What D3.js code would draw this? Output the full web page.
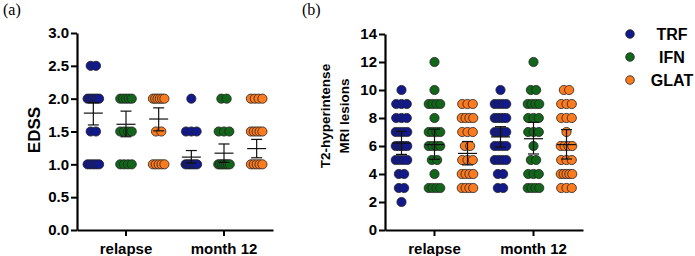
<!DOCTYPE html>
<html>
<head>
<meta charset="utf-8">
<script src="https://cdn.jsdelivr.net/npm/d3@7"></script>
<style>
  body { margin: 0; background: #fff; }
  text { font-family: "Liberation Sans", Arial, sans-serif; font-weight: bold; }
</style>
</head>
<body>
<svg id="chart"></svg>
<script>
const categories = ["relapse", "month 12"]
const seriesNames = ["TRF", "IFN", "GLAT"]
const seriesColors = ["#11198c", "#12661a", "#fb7b1e"]

const edssTicks = [0, 0.5, 1, 1.5, 2, 2.5, 3]
const lesionTicks = [0, 2, 4, 6, 8, 10, 12, 14]

// EDSS, one array per series, [relapse, month 12]
const edssTRF = [
    [2.5, 2.5, 2, 2, 2, 2, 2, 2, 1.5, 1.5, 1, 1, 1, 1, 1],
    [2, 1.5, 1.5, 1.5, 1, 1, 1, 1, 1, 1]
]
const edssIFN = [
    [2, 2, 2, 2, 2, 1.5, 1.5, 1.5, 1.5, 1, 1, 1, 1],
    [2, 2, 1.5, 1.5, 1.5, 1, 1, 1, 1, 1, 1, 1]
]
const edssGLAT = [
    [2, 2, 2, 2, 2, 2, 1.5, 1.5, 1, 1, 1, 1, 1],
    [2, 2, 2, 2, 1.5, 1.5, 1.5, 1.5, 1.5, 1, 1, 1, 1, 1]
]
// mean and error bar ends, [category][series]
const edssMean = [[1.78, 1.61, 1.69], [1.11, 1.17, 1.24]]
const edssLow = [[1.60, 1.42, 1.51], [1.02, 1.03, 1.10]]
const edssHigh = [[1.94, 1.81, 1.86], [1.21, 1.31, 1.38]]

// T2 lesions
const lesTRF = [
    [10, 9, 9, 9, 8, 8, 8, 7, 7, 7, 7, 6, 6, 6, 6, 6, 5, 5, 5, 5, 4, 4, 3, 3, 2],
    [10, 9, 9, 9, 9, 8, 8, 8, 8, 8, 7, 7, 7, 7, 6, 6, 6, 6, 5, 5, 5, 5, 4, 4, 3, 3]
]
const lesIFN = [
    [12, 10, 9, 9, 9, 9, 8, 7, 7, 7, 7, 6, 6, 6, 6, 5, 5, 4, 3, 3, 3, 3],
    [12, 10, 10, 9, 9, 9, 9, 8, 8, 8, 7, 7, 7, 6, 5, 5, 4, 4, 4, 3, 3, 3, 3]
]
const lesGLAT = [
    [9, 9, 9, 8, 8, 8, 8, 7, 7, 7, 6, 6, 5, 5, 5, 4, 4, 4, 4, 3, 3, 3, 3],
    [10, 10, 9, 9, 9, 8, 8, 8, 7, 6, 6, 6, 6, 5, 5, 5, 4, 4, 4, 4, 4, 3, 3, 3]
]
const lesMean = [[6.2, 6.1, 5.47], [6.65, 6.52, 6.1]]
const lesLow = [[5.4, 5.05, 4.65], [5.92, 5.43, 5.07]]
const lesHigh = [[7.05, 7.2, 6.32], [7.38, 7.69, 7.17]]

const width = 695
const height = 256

const svg = d3.select("#chart")
    .attr("width", width)
    .attr("height", height)

function DrawScatterPanel(opts) {
    const g = svg.append("g")

    const x = d3.scaleBand()
        .domain(categories)
        .range([opts.left, opts.right])
    const sub = d3.scaleBand()
        .domain(seriesNames)
        .range([0, x.bandwidth()])
    const y = d3.scaleLinear()
        .domain([0, opts.max])
        .range([opts.bottom, opts.top])

    const yAxis = d3.axisLeft(y)
        .tickValues(opts.ticks)
        .tickFormat(opts.format)
        .tickSize(6)
        .tickSizeOuter(0)
        .tickPadding(2)
    const xAxis = d3.axisBottom(x)
        .tickSize(6)
        .tickSizeOuter(0)
        .tickPadding(3)

    // dots, Prism-like spread of equal values
    opts.series.forEach((s, si) => {
        categories.forEach((c, ci) => {
            const cx = x(c) + sub(seriesNames[si]) + sub.bandwidth() / 2
            const rows = d3.groups(s[ci], d => d)
            const pts = []
            rows.forEach(([v, arr]) => {
                const n = arr.length
                const step = n > 1 ? Math.min(5.3, 11.5 / (n - 1)) : 0
                arr.forEach((d, i) => {
                    pts.push({ v: v, x: cx + i * step - (n - 1) * step / 2 })
                })
            })
            g.selectAll(null)
                .data(pts)
                .enter()
                .append("circle")
                .attr("cx", d => d.x)
                .attr("cy", d => y(d.v))
                .attr("r", 4.6)
                .attr("fill", seriesColors[si])
                .attr("stroke", "#222")
                .attr("stroke-width", 0.8)
        })
    })

    // mean and error bars
    categories.forEach((c, ci) => {
        seriesNames.forEach((s, si) => {
            const cx = x(c) + sub(s) + sub.bandwidth() / 2
            const eb = g.append("g")
                .attr("stroke", "#111")
                .attr("stroke-width", 1.2)
            eb.append("line")
                .attr("x1", cx).attr("x2", cx)
                .attr("y1", y(opts.low[ci][si])).attr("y2", y(opts.high[ci][si]))
            eb.append("line")
                .attr("x1", cx - 5.5).attr("x2", cx + 5.5)
                .attr("y1", y(opts.low[ci][si])).attr("y2", y(opts.low[ci][si]))
            eb.append("line")
                .attr("x1", cx - 5.5).attr("x2", cx + 5.5)
                .attr("y1", y(opts.high[ci][si])).attr("y2", y(opts.high[ci][si]))
            eb.append("line")
                .attr("x1", cx - 9.5).attr("x2", cx + 9.5)
                .attr("y1", y(opts.mean[ci][si])).attr("y2", y(opts.mean[ci][si]))
        })
    })

    const ya = g.append("g")
        .attr("transform", `translate(${opts.left}, 0)`)
        .call(yAxis)
    const xa = g.append("g")
        .attr("transform", `translate(0, ${opts.bottom})`)
        .call(xAxis)

    ;[ya, xa].forEach(a => {
        a.select(".domain").attr("stroke", "#000").attr("stroke-width", 2.2)
        a.selectAll(".tick line").attr("stroke", "#000").attr("stroke-width", 2)
        a.selectAll(".tick text")
            .attr("fill", "#000")
            .style("font-size", "15px")
            .style("font-family", "'Liberation Sans', Arial, sans-serif")
            .style("font-weight", "bold")
    })
    xa.selectAll(".tick text").attr("dy", "1.0em")

    // axis title
    const title = g.append("text")
        .attr("transform", `translate(${opts.titleX}, ${opts.titleY}) rotate(-90)`)
        .attr("text-anchor", "middle")
        .style("font-size", opts.titleSize + "px")
    opts.title.forEach((t, i) => {
        title.append("tspan")
            .attr("x", 0)
            .attr("dy", i === 0 ? 0 : opts.titleGap)
            .text(t)
    })

    // panel letter
    svg.append("text")
        .attr("x", opts.letterX)
        .attr("y", 15)
        .style("font-family", "'Liberation Serif', 'Times New Roman', serif")
        .style("font-weight", "normal")
        .style("font-size", "16px")
        .text(opts.letter)
}

DrawScatterPanel({
    left: 77, right: 273, top: 33, bottom: 230,
    max: 3, ticks: edssTicks, format: d3.format(".1f"),
    series: [edssTRF, edssIFN, edssGLAT],
    mean: edssMean, low: edssLow, high: edssHigh,
    title: ["EDSS"], titleX: 40, titleY: 130, titleSize: 17, titleGap: 0,
    letter: "(a)", letterX: 3
})

DrawScatterPanel({
    left: 385, right: 583, top: 34, bottom: 230,
    max: 14, ticks: lesionTicks, format: d3.format("d"),
    series: [lesTRF, lesIFN, lesGLAT],
    mean: lesMean, low: lesLow, high: lesHigh,
    title: ["T2-hyperintense", "MRI lesions"], titleX: 330, titleY: 116, titleSize: 13.5, titleGap: 19,
    letter: "(b)", letterX: 302
})

// legend
const legend = svg.append("g")
seriesNames.forEach((s, i) => {
    const ly = 34 + i * 23
    legend.append("circle")
        .attr("cx", 630)
        .attr("cy", ly)
        .attr("r", 4.3)
        .attr("fill", seriesColors[i])
        .attr("stroke", "#222")
        .attr("stroke-width", 0.8)
    legend.append("text")
        .attr("x", 672)
        .attr("y", ly + 6)
        .attr("text-anchor", "middle")
        .style("font-size", "16px")
        .text(s)
})
</script>
</body>
</html>
